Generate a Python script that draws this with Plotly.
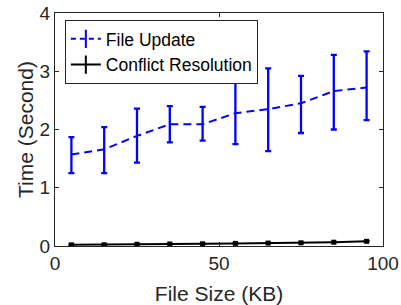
import plotly.graph_objects as go

file_size = [5, 15, 25, 35, 45, 55, 65, 75, 85, 95]
update_mean = [1.57, 1.66, 1.89, 2.09, 2.09, 2.28, 2.35, 2.45, 2.66, 2.72]
update_low = [1.25, 1.25, 1.43, 1.78, 1.81, 1.75, 1.63, 1.94, 2.00, 2.16]
update_high = [1.87, 2.04, 2.36, 2.40, 2.39, 2.83, 3.05, 2.92, 3.28, 3.34]
conflict_mean = [0.02, 0.022, 0.03, 0.035, 0.037, 0.045, 0.05, 0.055, 0.065, 0.08]
conflict_err = [0.008, 0.008, 0.008, 0.008, 0.008, 0.008, 0.008, 0.008, 0.008, 0.008]
x_ticks = [0, 50, 100]
y_ticks = [0, 1, 2, 3, 4]

BLUE = "#0000FF"
BLACK = "#000000"
FONT = "Liberation Sans, Arial, sans-serif"

fig = go.Figure()

fig.add_trace(go.Scatter(
    x=file_size, y=update_mean, mode="lines",
    line=dict(color=BLUE, width=2, dash="8px,5px"),
    error_y=dict(type="data", symmetric=False,
                 array=[h - m for h, m in zip(update_high, update_mean)],
                 arrayminus=[m - l for m, l in zip(update_mean, update_low)],
                 color=BLUE, thickness=2.3, width=3),
    showlegend=False))

fig.add_trace(go.Scatter(
    x=file_size, y=conflict_mean, mode="lines+markers",
    line=dict(color=BLACK, width=2),
    marker=dict(symbol="square", size=5, color=BLACK),
    error_y=dict(type="data", array=conflict_err, color=BLACK, thickness=1.5, width=3),
    showlegend=False))

# legend entries
fig.add_trace(go.Scatter(
    x=[None], y=[None], mode="lines+markers", name="File Update",
    line=dict(color=BLUE, width=2, dash="5px,4px"),
    marker=dict(symbol="line-ns", size=13, color=BLUE, line=dict(color=BLUE, width=2))))
fig.add_trace(go.Scatter(
    x=[None], y=[None], mode="lines+markers", name="Conflict Resolution",
    line=dict(color=BLACK, width=2),
    marker=dict(symbol="line-ns", size=13, color=BLACK, line=dict(color=BLACK, width=2))))

axis_common = dict(
    showgrid=False, zeroline=False, showline=True, linecolor="#262626", linewidth=1,
    mirror="ticks", ticks="inside", ticklen=4, tickcolor="#262626", automargin=False,
    tickfont=dict(family=FONT, size=19, color="#262626"),
)

fig.update_layout(
    width=401, height=305,
    margin=dict(l=55, r=18, t=13, b=59),
    paper_bgcolor="white", plot_bgcolor="white",
    font=dict(family=FONT, color="#262626"),
    xaxis=dict(range=[0, 100], tickvals=x_ticks, **axis_common,
               title=dict(text="File Size (KB)", font=dict(family=FONT, size=21, color="#262626"), standoff=13)),
    yaxis=dict(range=[0, 4], tickvals=y_ticks, **axis_common,
               title=dict(text="Time (Second)", font=dict(family=FONT, size=21, color="#262626"), standoff=0)),
    legend=dict(x=0.03, y=0.970, xanchor="left", yanchor="top",
                bgcolor="white", bordercolor="#262626", borderwidth=1,
                font=dict(family=FONT, size=17.5, color="#000000"),
                tracegroupgap=0, itemwidth=30),
)

fig.write_html("out.html",
               config={"displayModeBar": False},
               post_script="document.body.style.margin='0';document.body.style.overflow='hidden';")
